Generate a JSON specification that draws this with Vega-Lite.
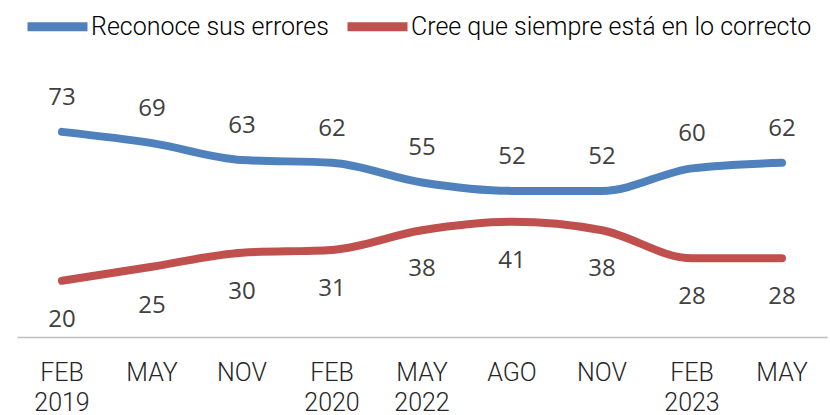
{
  "$schema": "https://vega.github.io/schema/vega-lite/v6.json",
  "width": 810,
  "height": 281,
  "autosize": {"type": "none"},
  "padding": {"left": 17, "top": 56, "right": 3, "bottom": 78},
  "background": "white",
  "config": {"view": {"stroke": null}},
  "data": {
    "values": [
      {"periodo": "FEB 2019", "serie": "Reconoce sus errores", "valor": 73},
      {"periodo": "MAY 2019", "serie": "Reconoce sus errores", "valor": 69},
      {"periodo": "NOV 2019", "serie": "Reconoce sus errores", "valor": 63},
      {"periodo": "FEB 2020", "serie": "Reconoce sus errores", "valor": 62},
      {"periodo": "MAY 2022", "serie": "Reconoce sus errores", "valor": 55},
      {"periodo": "AGO 2022", "serie": "Reconoce sus errores", "valor": 52},
      {"periodo": "NOV 2022", "serie": "Reconoce sus errores", "valor": 52},
      {"periodo": "FEB 2023", "serie": "Reconoce sus errores", "valor": 60},
      {"periodo": "MAY 2023", "serie": "Reconoce sus errores", "valor": 62},
      {"periodo": "FEB 2019", "serie": "Cree que siempre está en lo correcto", "valor": 20},
      {"periodo": "MAY 2019", "serie": "Cree que siempre está en lo correcto", "valor": 25},
      {"periodo": "NOV 2019", "serie": "Cree que siempre está en lo correcto", "valor": 30},
      {"periodo": "FEB 2020", "serie": "Cree que siempre está en lo correcto", "valor": 31},
      {"periodo": "MAY 2022", "serie": "Cree que siempre está en lo correcto", "valor": 38},
      {"periodo": "AGO 2022", "serie": "Cree que siempre está en lo correcto", "valor": 41},
      {"periodo": "NOV 2022", "serie": "Cree que siempre está en lo correcto", "valor": 38},
      {"periodo": "FEB 2023", "serie": "Cree que siempre está en lo correcto", "valor": 28},
      {"periodo": "MAY 2023", "serie": "Cree que siempre está en lo correcto", "valor": 28}
    ]
  },
  "encoding": {
    "x": {
      "field": "periodo",
      "type": "ordinal",
      "sort": null,
      "scale": {"type": "band", "paddingInner": 0, "paddingOuter": 0},
      "axis": {
        "title": null,
        "ticks": false,
        "domainColor": "#bfbfbf",
        "domainWidth": 1.5,
        "labelAngle": 0,
        "labelFont": "Roboto",
        "labelFontWeight": 300,
        "labelFontSize": 25,
        "labelColor": "#262626",
        "labelPadding": 23,
        "labelLineHeight": 30,
        "labelBaseline": "top",
        "labelExpr": "indexof(['FEB 2019','FEB 2020','MAY 2022','FEB 2023'], datum.value) >= 0 ? split(datum.value, ' ') : split(datum.value, ' ')[0]"
      }
    },
    "y": {
      "field": "valor",
      "type": "quantitative",
      "scale": {"domain": [0, 100]},
      "axis": null
    }
  },
  "layer": [
    {
      "mark": {"type": "line", "strokeWidth": 8, "strokeCap": "round", "strokeJoin": "round", "interpolate": "monotone"},
      "encoding": {
        "color": {
          "field": "serie",
          "type": "nominal",
          "scale": {
            "domain": ["Reconoce sus errores", "Cree que siempre está en lo correcto"],
            "range": ["#4f81bd", "#c0504d"]
          },
          "legend": {
            "title": null,
            "orient": "none",
            "legendX": 6,
            "legendY": -64,
            "padding": 0,
            "direction": "horizontal",
            "symbolType": "stroke",
            "symbolSize": 3600,
            "symbolStrokeWidth": 9,
            "labelFont": "Roboto",
            "labelFontWeight": 300,
            "labelFontSize": 25,
            "labelColor": "#000000",
            "labelOffset": -1,
            "columnPadding": 0,
            "labelLimit": 600
          }
        }
      }
    },
    {
      "transform": [{"filter": "datum.serie == 'Reconoce sus errores'"}],
      "mark": {"type": "text", "dy": -34, "fontSize": 24, "font": "Open Sans", "color": "#404040", "baseline": "middle"},
      "encoding": {"text": {"field": "valor", "type": "quantitative"}}
    },
    {
      "transform": [{"filter": "datum.serie != 'Reconoce sus errores'"}],
      "mark": {"type": "text", "dy": 39, "fontSize": 24, "font": "Open Sans", "color": "#404040", "baseline": "middle"},
      "encoding": {"text": {"field": "valor", "type": "quantitative"}}
    }
  ]
}
